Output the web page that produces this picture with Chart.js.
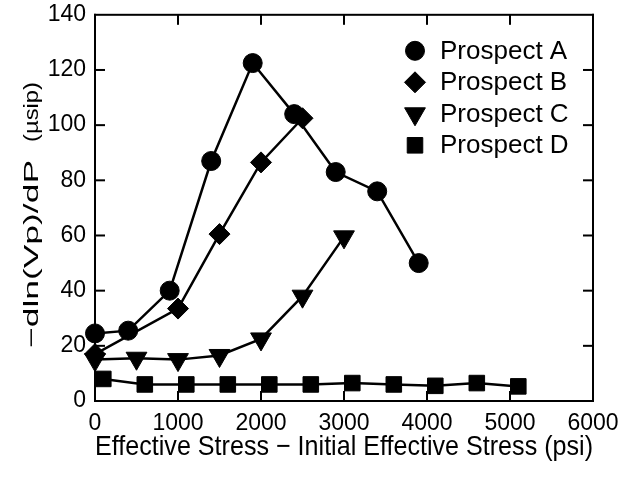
<!DOCTYPE html>
<html>
<head>
<meta charset="utf-8">
<script src="https://cdn.jsdelivr.net/npm/chart.js@4/dist/chart.umd.min.js"></script>
<style>
  html, body { margin: 0; padding: 0; background: #fff; }
  #wrap { width: 632px; height: 477px; }
</style>
</head>
<body>
<div id="wrap"><canvas id="c" width="632" height="477"></canvas></div>
<script>
// Stress offset (psi) and velocity sensitivity for each prospect
const seriesNames = ['Prospect A', 'Prospect B', 'Prospect C', 'Prospect D'];

const stressA = [0, 400, 900, 1400, 1900, 2400, 2900, 3400, 3900];
const sensA   = [24.5, 25.5, 40, 87, 122.5, 104, 83, 76, 50];

const stressB = [0, 1000, 1500, 2000, 2500];
const sensB   = [17, 33.5, 60.5, 86.5, 102.5];

const stressC = [0, 500, 1000, 1500, 2000, 2500, 3000];
const sensC   = [15, 15.5, 15, 16.5, 22.5, 38, 59.5];

const stressD = [100, 600, 1100, 1600, 2100, 2600, 3100, 3600, 4100, 4600, 5100];
const sensD   = [8, 6, 6, 6, 6, 6, 6.5, 6, 5.5, 6.5, 5.3];

const xTicks = [0, 1000, 2000, 3000, 4000, 5000, 6000];
const yTicks = [0, 20, 40, 60, 80, 100, 120, 140];

const xTitle = 'Effective Stress \u2212 Initial Effective Stress (psi)';
const yTitleMain = '\u2212dln(Vp)/dP';
const yTitleUnit = '(\u00b5sip)';

const FONT = '"Liberation Sans", Arial, Helvetica, sans-serif';

const markers = [
  { pointStyle: 'circle',   radius: 9.5,  rotation: 0 },
  { pointStyle: 'rectRot',  radius: 10.5, rotation: 0 },
  { pointStyle: 'triangle', radius: 12,   rotation: 180 },
  { pointStyle: 'rect',     radius: 11,   rotation: 0 }
];

function pairs(xs, ys) { return xs.map((x, i) => ({ x: x, y: ys[i] })); }

const allData = [pairs(stressA, sensA), pairs(stressB, sensB), pairs(stressC, sensC), pairs(stressD, sensD)];

const datasets = allData.map((d, i) => ({
  label: seriesNames[i],
  data: d,
  showLine: true,
  borderColor: '#000',
  borderWidth: 2.5,
  backgroundColor: '#000',
  pointBackgroundColor: '#000',
  pointBorderColor: '#000',
  pointBorderWidth: 1,
  pointStyle: markers[i].pointStyle,
  pointRadius: markers[i].radius,
  pointRotation: markers[i].rotation,
  pointHoverRadius: markers[i].radius,
  tension: 0,
  clip: false
}));

// Rotated text, stretched along its length to a given extent
function drawStretchedVertical(ctx, text, baseX, centerY, length, size) {
  ctx.save();
  ctx.font = size + 'px ' + FONT;
  const w = ctx.measureText(text).width;
  ctx.translate(baseX, centerY);
  ctx.rotate(-Math.PI / 2);
  ctx.scale(length / w, 1);
  ctx.textAlign = 'center';
  ctx.textBaseline = 'alphabetic';
  ctx.fillStyle = '#000';
  ctx.fillText(text, 0, 0);
  ctx.restore();
}

// Box frame with inward ticks on all four sides, y title and the inset legend
const framePlugin = {
  id: 'frameTicks',
  afterDraw(chart) {
    const ctx = chart.ctx;
    const a = chart.chartArea;
    const xs = chart.scales.x, ys = chart.scales.y;
    const len = 10, lw = 2;
    ctx.save();
    ctx.fillStyle = '#000';
    // frame
    ctx.fillRect(a.left - 1, a.top - 1, a.right - a.left + 2, lw);
    ctx.fillRect(a.left - 1, a.bottom - 1, a.right - a.left + 2, lw);
    ctx.fillRect(a.left - 1, a.top - 1, lw, a.bottom - a.top + 2);
    ctx.fillRect(a.right - 1, a.top - 1, lw, a.bottom - a.top + 2);
    // inward ticks
    for (let i = 1; i < xTicks.length - 1; i++) {
      const px = xs.getPixelForValue(xTicks[i]);
      ctx.fillRect(px - 1, a.bottom - len, lw, len);
      ctx.fillRect(px - 1, a.top, lw, len);
    }
    for (let i = 1; i < yTicks.length - 1; i++) {
      const py = ys.getPixelForValue(yTicks[i]);
      ctx.fillRect(a.left, py - 1, len, lw);
      ctx.fillRect(a.right - len, py - 1, len, lw);
    }
    ctx.restore();

    // y-axis title
    drawStretchedVertical(ctx, yTitleUnit, 38, 112, 60, 21);
    drawStretchedVertical(ctx, yTitleMain, 38, 254, 188, 21);

    // legend
    ctx.save();
    const mx = a.right - 178, tx = a.right - 153;
    const y0 = a.top + 36, dy = 31.5;
    ctx.font = '26px ' + FONT;
    ctx.textBaseline = 'middle';
    ctx.textAlign = 'left';
    seriesNames.forEach((name, i) => {
      const y = y0 + i * dy;
      const m = markers[i];
      ctx.fillStyle = '#000';
      ctx.strokeStyle = '#000';
      ctx.lineWidth = 1;
      Chart.helpers.drawPoint(ctx, {
        pointStyle: m.pointStyle, radius: m.radius, rotation: m.rotation, borderWidth: 1
      }, mx, y);
      ctx.fillText(name, tx, y + 1);
    });
    ctx.restore();
  }
};

new Chart(document.getElementById('c'), {
  type: 'line',
  data: { datasets: datasets },
  options: {
    responsive: false,
    animation: false,
    events: [],
    layout: { padding: { left: 0, right: 39, top: 6, bottom: 0 } },
    plugins: { legend: { display: false }, tooltip: { enabled: false } },
    scales: {
      x: {
        type: 'linear',
        min: 0, max: 6000,
        afterFit(s) { s.height = 76; },
        afterBuildTicks(s) { s.ticks = xTicks.map(v => ({ value: v })); },
        ticks: {
          color: '#000', font: { family: FONT, size: 23 }, padding: 1, maxRotation: 0,
          callback: v => String(v)
        },
        grid: { display: false },
        border: { display: false },
        title: {
          display: true,
          text: xTitle,
          color: '#000',
          font: { family: FONT, size: 28 },
          padding: { top: 0, bottom: 13 }
        }
      },
      y: {
        min: 0, max: 140,
        afterFit(s) { s.width = 95; },
        afterBuildTicks(s) { s.ticks = yTicks.map(v => ({ value: v })); },
        ticks: { color: '#000', font: { family: FONT, size: 23 }, padding: 1, callback: v => String(v) },
        grid: { display: false },
        border: { display: false },
        title: { display: false }
      }
    }
  },
  plugins: [framePlugin]
});
</script>
</body>
</html>
